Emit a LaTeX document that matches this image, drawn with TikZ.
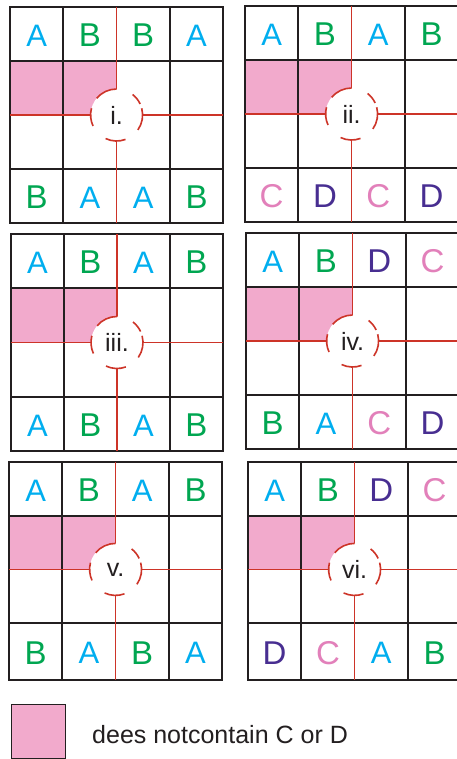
\documentclass[tikz,border=0pt]{standalone}
\usepackage{fontspec}
\setmainfont{Liberation Sans}
\definecolor{colA}{RGB}{0,174,239}
\definecolor{colB}{RGB}{0,166,81}
\definecolor{colC}{RGB}{226,128,186}
\definecolor{colD}{RGB}{72,46,145}
\definecolor{pinkfill}{RGB}{242,170,204}
\definecolor{lineDark}{RGB}{35,31,32}
\definecolor{lineRed}{RGB}{205,52,40}
\newcommand{\fntA}{\fontsize{31}{31}\selectfont}
\newcommand{\fntB}{\fontsize{33}{33}\selectfont}
\newcommand{\fntC}{\fontsize{33}{33}\selectfont}
\newcommand{\fntD}{\fontsize{33}{33}\selectfont}
\tikzset{
  gridline/.style={draw=lineDark, line width=1.8pt},
  redline/.style={draw=lineRed, line width=1.6pt},
  lt/.style={text=col#1, font=\csname fnt#1\endcsname, inner sep=0pt},
  panellabel/.style={text=lineDark, font=\fontsize{25}{25}\selectfont, inner sep=0pt},
}
\newcommand{\gridpanel}[9]{%
\begin{scope}[shift={(#2,#3)}]
  \pgfmathsetmacro{\pW}{4*#4}
  \pgfmathsetmacro{\pH}{3*#5+#6}
  \pgfmathsetmacro{\pCx}{2*#4}
  \pgfmathsetmacro{\pCy}{2*#5}
  \fill[pinkfill] (0,#5) rectangle (\pCx,\pCy);
  \draw[gridline] (0,0) rectangle (\pW,\pH);
  \foreach \k in {1,3} \draw[gridline] ({\k*#4},0) -- ({\k*#4},\pH);
  \foreach \k in {1,3} \draw[gridline] (0,{\k*#5}) -- (\pW,{\k*#5});
  \draw[redline] (\pCx,0) -- (\pCx,\pH);
  \draw[redline] (0,\pCy) -- (\pW,\pCy);
  \coordinate (#1-c) at (\pCx,\pCy);
  \fill[white] (#1-c) circle[radius=26];
  \draw[redline] (#1-c) ++(-90:26) arc[start angle=-90, end angle=-140, radius=26];
  \draw[redline] (#1-c) ++(-165:26) arc[start angle=-165, end angle=-205, radius=26];
  \draw[redline] (#1-c) ++(-245:26) arc[start angle=-245, end angle=-290, radius=26];
  \draw[redline] (#1-c) ++(-325:26) arc[start angle=-325, end angle=-375, radius=26];
  \draw[redline] (#1-c) ++(-25:26) arc[start angle=-25, end angle=-52, radius=26];
  \node[panellabel] (#1-lab) at (#1-c) {#7};
  \foreach \l [count=\k] in {#8}
    \node[lt=\l] (#1-t\k) at ({(\k-0.5)*#4},{0.5*#5+1.5}) {\l};
  \foreach \l [count=\k] in {#9}
    \node[lt=\l] (#1-b\k) at ({(\k-0.5)*#4},{3*#5+0.5*#6+1.5}) {\l};
\end{scope}}
\begin{document}
\begin{tikzpicture}[x=1pt,y=-1pt]
\useasboundingbox (0,0) rectangle (457,759);
\fill[white] (0,0) rectangle (457,759);
\gridpanel{p1}{10}{7}{53.3}{54}{54}{i.}{A,B,B,A}{B,A,A,B}
\gridpanel{p2}{245}{6}{53.3}{54}{54}{ii.}{A,B,A,B}{C,D,C,D}
\gridpanel{p3}{11}{234}{53}{54.25}{54.25}{iii.}{A,B,A,B}{A,B,A,B}
\gridpanel{p4}{246}{233}{53.3}{54}{54}{iv.}{A,B,D,C}{B,A,C,D}
\gridpanel{p5}{9}{462}{53.3}{53.7}{57}{v.}{A,B,A,B}{B,A,B,A}
\gridpanel{p6}{248}{462}{53.3}{53.7}{57}{vi.}{A,B,D,C}{D,C,A,B}
\node[draw=lineDark, line width=1.2pt, fill=pinkfill, minimum size=54pt, inner sep=0pt, anchor=north west] (legbox) at (11,704) {};
\node[anchor=base west, inner sep=0pt, font=\fontsize{25}{25}\selectfont, text=lineDark] (legtext) at (92,743) {dees notcontain C or D};
\end{tikzpicture}
\end{document}
